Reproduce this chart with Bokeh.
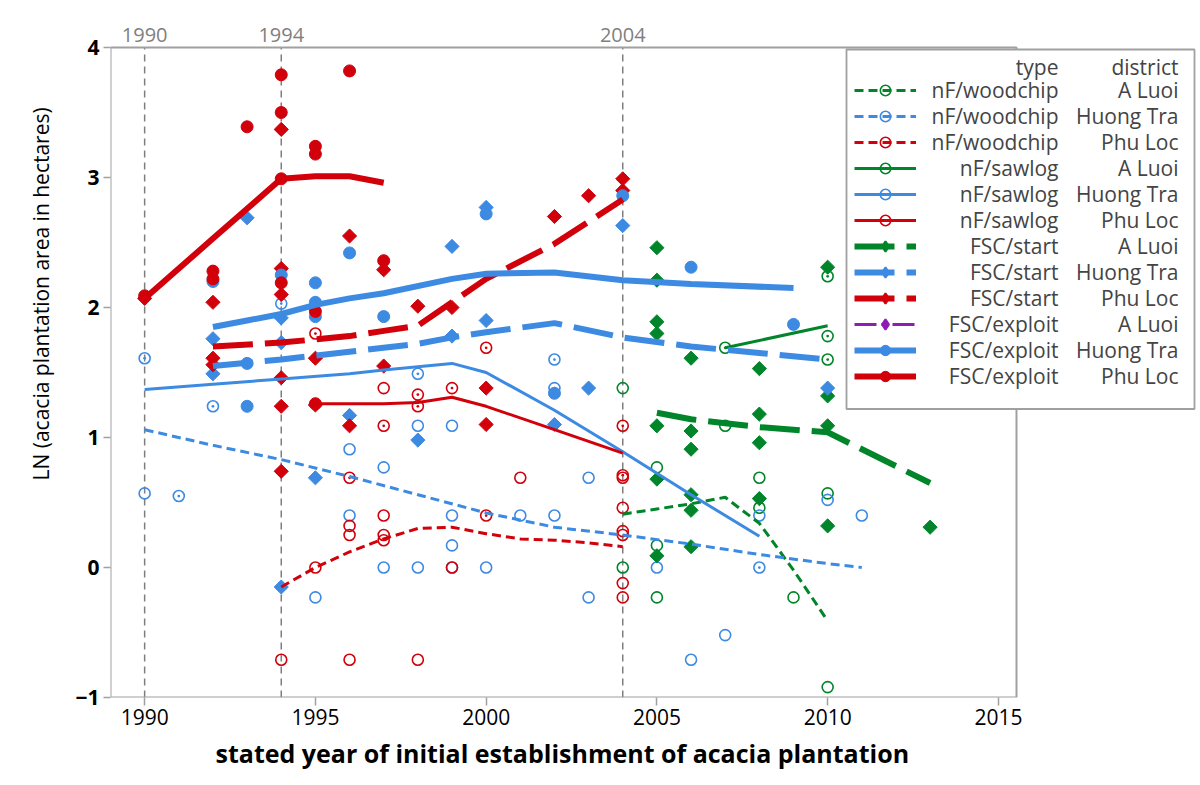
import math
from bokeh.plotting import figure
from bokeh.models import (Range1d, FixedTicker, Label, BoxAnnotation, Title,
                          Legend, LegendItem)
from bokeh.embed import file_html
from bokeh.resources import INLINE

FONT = "Open Sans"
GREEN = "#00852A"
BLUE = "#3D8AE3"
RED = "#D2000A"
PURPLE = "#8E1CB5"
FRAME = "#A0A0A0"
REFGREY = "#7F7F7F"

# ---------------- data: scatter points ----------------
wc_al_x = [2004, 2004, 2005, 2005, 2005, 2007, 2008, 2008, 2009, 2010, 2010]
wc_al_y = [1.38, 0.0, 0.77, 0.17, -0.23, 1.09, 0.69, 0.46, -0.23, 0.57, -0.92]

wc_ht_x = [1990, 1995, 1996, 1996, 1997, 1997, 1998, 1998, 1999, 1999, 1999, 1999,
           2000, 2001, 2002, 2003, 2003, 2005, 2006, 2007, 2008, 2010, 2011]
wc_ht_y = [0.57, -0.23, 0.91, 0.40, 0.77, 0.0, 1.09, 0.0, 1.09, 0.40, 0.17, 0.0,
           0.0, 0.40, 0.40, 0.69, -0.23, 0.0, -0.71, -0.52, 0.40, 0.52, 0.40]

wc_pl_x = [1994, 1995, 1996, 1996, 1996, 1997, 1997, 1997, 1997, 1998, 1999, 2001,
           2004, 2004, 2004, 2004, 2004, 2004]
wc_pl_y = [-0.71, 0.0, 0.32, 0.25, -0.71, 1.38, 0.40, 0.25, 0.21, -0.71, 0.0, 0.69,
           0.69, 0.46, 0.28, 0.25, -0.12, -0.23]

sl_al_x = [2007, 2010, 2010, 2010]
sl_al_y = [1.69, 2.24, 1.78, 1.60]

sl_ht_x = [1990, 1991, 1992, 1994, 1998, 2002, 2002, 2008]
sl_ht_y = [1.61, 0.55, 1.24, 2.03, 1.49, 1.60, 1.38, 0.0]

sl_pl_x = [1995, 1996, 1997, 1998, 1998, 1999, 2000, 2000, 2004, 2004]
sl_pl_y = [1.80, 0.69, 1.09, 1.33, 1.24, 1.38, 1.69, 0.40, 1.09, 0.71]

st_al_x = [2005, 2005, 2005, 2005, 2005, 2005, 2005, 2006, 2006, 2006, 2006, 2006, 2006,
           2008, 2008, 2008, 2008, 2010, 2010, 2010, 2010, 2013]
st_al_y = [2.46, 2.21, 1.89, 1.80, 1.09, 0.68, 0.09, 1.61, 1.05, 0.91, 0.56, 0.44, 0.16,
           1.53, 1.18, 0.96, 0.53, 2.31, 1.32, 1.09, 0.32, 0.31]

st_ht_x = [1992, 1992, 1993, 1994, 1994, 1994, 1995, 1996, 1998, 1999, 1999, 2000, 2000,
           2002, 2003, 2004, 2010]
st_ht_y = [1.76, 1.49, 2.69, 1.92, 1.73, -0.15, 0.69, 1.17, 0.98, 2.47, 1.78, 2.77, 1.90,
           1.10, 1.38, 2.63, 1.38]

st_pl_x = [1990, 1992, 1992, 1992, 1994, 1994, 1994, 1994, 1994, 1994, 1995, 1995, 1996,
           1996, 1997, 1997, 1998, 1999, 2000, 2000, 2002, 2003, 2004, 2004]
st_pl_y = [2.07, 2.04, 1.61, 1.56, 3.37, 2.30, 2.10, 1.46, 1.24, 0.74, 1.61, 1.25, 2.55,
           1.09, 2.29, 1.55, 2.01, 2.00, 1.38, 1.10, 2.70, 2.86, 2.99, 2.90]

ex_ht_x = [1992, 1993, 1993, 1994, 1995, 1995, 1995, 1996, 1997, 2000, 2002, 2004, 2006, 2009]
ex_ht_y = [2.20, 1.57, 1.24, 2.25, 2.19, 2.04, 1.93, 2.42, 1.93, 2.72, 1.34, 2.86, 2.31, 1.87]

ex_pl_x = [1990, 1992, 1992, 1993, 1994, 1994, 1994, 1994, 1995, 1995, 1995, 1995, 1996, 1997]
ex_pl_y = [2.09, 2.28, 2.22, 3.39, 3.79, 3.50, 2.99, 2.19, 3.24, 3.18, 1.97, 1.26, 3.82, 2.36]

# ---------------- data: fitted (smoothed) lines ----------------
fit_wc_al_x = [2004, 2005, 2006, 2007, 2008, 2009, 2010]
fit_wc_al_y = [0.41, 0.45, 0.49, 0.54, 0.34, -0.02, -0.41]
fit_wc_ht_x = [1990, 1992, 1994, 1996, 1998, 2000, 2002, 2004, 2006, 2008, 2010, 2011]
fit_wc_ht_y = [1.06, 0.94, 0.83, 0.70, 0.56, 0.42, 0.31, 0.25, 0.18, 0.10, 0.03, 0.0]
fit_wc_pl_x = [1994, 1995, 1996, 1997, 1998, 1999, 2000, 2001, 2002, 2003, 2004]
fit_wc_pl_y = [-0.15, 0.0, 0.12, 0.22, 0.30, 0.31, 0.26, 0.22, 0.21, 0.19, 0.16]

fit_sl_al_x = [2007, 2010]
fit_sl_al_y = [1.69, 1.86]
fit_sl_ht_x = [1990, 1992, 1994, 1996, 1997, 1999, 2000, 2002, 2004, 2006, 2008]
fit_sl_ht_y = [1.37, 1.41, 1.45, 1.49, 1.52, 1.57, 1.50, 1.21, 0.89, 0.56, 0.24]
fit_sl_pl_x = [1995, 1996, 1997, 1998, 1999, 2000, 2002, 2004]
fit_sl_pl_y = [1.26, 1.26, 1.26, 1.27, 1.31, 1.24, 1.06, 0.88]

fit_st_al_x = [2005, 2006, 2007, 2008, 2010, 2013]
fit_st_al_y = [1.19, 1.14, 1.11, 1.08, 1.04, 0.65]
fit_st_ht_x = [1992, 1994, 1996, 1998, 1999, 2000, 2002, 2004, 2006, 2008, 2010]
fit_st_ht_y = [1.55, 1.60, 1.66, 1.72, 1.77, 1.81, 1.88, 1.77, 1.70, 1.65, 1.60]
fit_st_pl_x = [1992, 1994, 1996, 1997, 1998, 1999, 2000, 2002, 2003, 2004]
fit_st_pl_y = [1.70, 1.73, 1.78, 1.82, 1.86, 2.04, 2.22, 2.49, 2.66, 2.83]

fit_ex_ht_x = [1992, 1993, 1994, 1995, 1996, 1997, 1999, 2000, 2002, 2004, 2006, 2009]
fit_ex_ht_y = [1.85, 1.90, 1.95, 2.02, 2.07, 2.11, 2.22, 2.26, 2.27, 2.21, 2.18, 2.15]
fit_ex_pl_x = [1990, 1992, 1993, 1994, 1995, 1996, 1997]
fit_ex_pl_y = [2.07, 2.53, 2.76, 2.99, 3.01, 3.01, 2.96]

ref_years = [1990, 1994, 2004]
x_ticks = [1990, 1995, 2000, 2005, 2010, 2015]
y_ticks = [-1, 0, 1, 2, 3, 4]
x_lo, x_hi = 1989.0, 2015.53     # plotted data window (box)
y_lo, y_hi = -1.0, 4.0

legend_types = ["nF/woodchip"] * 3 + ["nF/sawlog"] * 3 + ["FSC/start"] * 3 + ["FSC/exploit"] * 3
legend_districts = ["A Luoi", "Huong Tra", "Phu Loc"] * 4

# ---------------- figure (frame widened to host the legend) ----------------
PX_X = 906 / (x_hi - x_lo)      # pixels per year inside the box
PX_Y = 650 / (y_hi - y_lo)      # pixels per unit
FR_L, FR_R, FR_T, FR_B = 110, 1198, 8, 697
xr = Range1d(x_lo, x_lo + (FR_R - FR_L) / PX_X)
yr = Range1d(y_lo, y_hi + (47 - FR_T) / PX_Y)

p = figure(width=1200, height=785, output_backend="svg", toolbar_location=None,
           x_range=xr, y_range=yr,
           min_border_left=FR_L, min_border_right=1200 - FR_R, min_border_top=FR_T,
           min_border_bottom=785 - FR_B, background_fill_color="white",
           border_fill_color="white")
p.xgrid.visible = False
p.ygrid.visible = False
p.outline_line_color = None

for ax in (p.xaxis[0], p.yaxis[0]):
    ax.axis_line_color = None
    ax.major_tick_line_color = FRAME
    ax.major_tick_line_width = 1.5
    ax.major_tick_in = 0
    ax.minor_tick_line_color = None
    ax.major_label_text_font = FONT
    ax.major_label_text_color = "black"

p.xaxis.ticker = FixedTicker(ticks=x_ticks)
p.xaxis.major_tick_out = 8
p.xaxis.major_label_standoff = 3
p.xaxis.major_label_text_font_size = "21px"

p.yaxis.ticker = FixedTicker(ticks=y_ticks)
p.yaxis.major_tick_out = 7
p.yaxis.major_label_standoff = 4
p.yaxis.major_label_text_font_size = "21px"
p.yaxis.major_label_text_font_style = "bold"

p.add_layout(Title(text="stated year of initial establishment of acacia plantation",
                   align="left", offset=105, vertical_align="top", standoff=16,
                   text_font=FONT, text_font_size="25px", text_font_style="bold",
                   text_color="black"), "below")
p.add_layout(Title(text="LN (acacia plantation area in hectares)",
                   align="left", offset=217, vertical_align="bottom", standoff=36,
                   text_font=FONT, text_font_size="21px", text_font_style="normal",
                   text_color="black"), "left")

# data box (axes frame)
p.add_layout(BoxAnnotation(left=x_lo, right=x_hi, bottom=y_lo, top=y_hi,
                           fill_alpha=0, line_color=FRAME, line_alpha=1.0,
                           line_width=2))

# reference lines
p.segment(x0=ref_years, y0=[y_lo] * 3, x1=ref_years, y1=[y_hi] * 3,
          line_color=REFGREY, line_width=1.5, line_dash="7 5")
for yrr in ref_years:
    p.add_layout(Label(x=yrr, y=y_hi + 13 / PX_Y, text=str(yrr), text_align="center",
                       text_baseline="middle", text_font=FONT, text_font_size="20px",
                       text_color=REFGREY))

# ---------------- points ----------------
def open_pts(x, y, c):
    return p.scatter(x, y, marker="circle", size=11, fill_color=None,
                     line_color=c, line_width=1.6)

def dot_pts(x, y, c):
    return p.scatter(x, y, marker="circle_dot", size=11, fill_color=None,
                     line_color=c, line_width=1.6)

def dia_pts(x, y, c):
    return p.scatter(x, y, marker="square", angle=math.pi / 4, size=10,
                     fill_color=c, line_color=c, line_width=1)

def fill_pts(x, y, c):
    return p.scatter(x, y, marker="circle", size=12, fill_color=c, line_color=c)

m_wc = [open_pts(wc_al_x, wc_al_y, GREEN), open_pts(wc_ht_x, wc_ht_y, BLUE),
        open_pts(wc_pl_x, wc_pl_y, RED)]
m_sl = [dot_pts(sl_al_x, sl_al_y, GREEN), dot_pts(sl_ht_x, sl_ht_y, BLUE),
        dot_pts(sl_pl_x, sl_pl_y, RED)]
dia_pts(st_al_x, st_al_y, GREEN)
dia_pts(st_ht_x, st_ht_y, BLUE)
dia_pts(st_pl_x, st_pl_y, RED)
m_ex_ht = fill_pts(ex_ht_x, ex_ht_y, BLUE)
m_ex_pl = fill_pts(ex_pl_x, ex_pl_y, RED)

# ---------------- fitted lines ----------------
WC = dict(line_width=3, line_dash="9 5")
SL = dict(line_width=3)
ST = dict(line_width=6, line_dash="40 12")
EX = dict(line_width=6)

l_wc = [p.line(fit_wc_al_x, fit_wc_al_y, line_color=GREEN, **WC),
        p.line(fit_wc_ht_x, fit_wc_ht_y, line_color=BLUE, **WC),
        p.line(fit_wc_pl_x, fit_wc_pl_y, line_color=RED, **WC)]
l_sl = [p.line(fit_sl_al_x, fit_sl_al_y, line_color=GREEN, **SL),
        p.line(fit_sl_ht_x, fit_sl_ht_y, line_color=BLUE, **SL),
        p.line(fit_sl_pl_x, fit_sl_pl_y, line_color=RED, **SL)]
l_st = [p.line(fit_st_al_x, fit_st_al_y, line_color=GREEN, **ST),
        p.line(fit_st_ht_x, fit_st_ht_y, line_color=BLUE, **ST),
        p.line(fit_st_pl_x, fit_st_pl_y, line_color=RED, **ST)]

# legend proxies (kept outside the visible window): diamond keys and the
# FSC/exploit A Luoi group, which has no observations
off = [x_lo - 50]
m_st = [p.scatter(off, [0], marker="diamond", size=12, fill_color=c, line_color=c,
                  line_width=2) for c in (GREEN, BLUE, RED)]
l_ex_al = p.line(off * 2, [0, 1], line_color=PURPLE, line_width=3, line_dash="22 5 6 5")
m_ex_al = p.scatter(off, [0], marker="diamond", size=16, fill_color=PURPLE,
                    line_color=PURPLE, line_width=2)
l_ex = [l_ex_al,
        p.line(fit_ex_ht_x, fit_ex_ht_y, line_color=BLUE, **EX),
        p.line(fit_ex_pl_x, fit_ex_pl_y, line_color=RED, **EX)]
m_ex = [m_ex_al, m_ex_ht, m_ex_pl]

lines_all = l_wc + l_sl + l_st + l_ex
marks_all = m_wc + m_sl + m_st + m_ex

# ---------------- legend ----------------
def dx(px):
    return x_lo + (px - FR_L) / PX_X

def dy(py):
    return y_lo + (FR_B - py) / PX_Y

p.add_layout(BoxAnnotation(left=dx(846), right=dx(1194), top=dy(49), bottom=dy(408.5),
                           fill_color="white", fill_alpha=1.0, line_color=FRAME,
                           line_alpha=1.0, line_width=1.8))

items = [LegendItem(label=" ", renderers=[ln, mk]) for ln, mk in zip(lines_all, marks_all)]
leg = Legend(items=items, location=(744, 308.5), orientation="vertical",
             glyph_width=62, glyph_height=26, label_height=26, spacing=0,
             padding=0, margin=0, label_standoff=0, label_text_font_size="4px",
             border_line_color=None, background_fill_alpha=0)
p.add_layout(leg)

TYPE_R, DIST_R = dx(1058), dx(1178)
p.add_layout(Label(x=TYPE_R, y=dy(66.5), text="type", text_align="right",
                   text_baseline="middle", text_font=FONT, text_font_size="21px"))
p.add_layout(Label(x=DIST_R, y=dy(66.5), text="district", text_align="right",
                   text_baseline="middle", text_font=FONT, text_font_size="21px"))
for i, (t, d) in enumerate(zip(legend_types, legend_districts)):
    yy = dy(89.5 + 26 * i)
    p.add_layout(Label(x=TYPE_R, y=yy, text=t, text_align="right", text_baseline="middle",
                       text_font=FONT, text_font_size="21px"))
    p.add_layout(Label(x=DIST_R, y=yy, text=d, text_align="right", text_baseline="middle",
                       text_font=FONT, text_font_size="21px"))

open("out.html", "w").write(file_html(p, INLINE))
